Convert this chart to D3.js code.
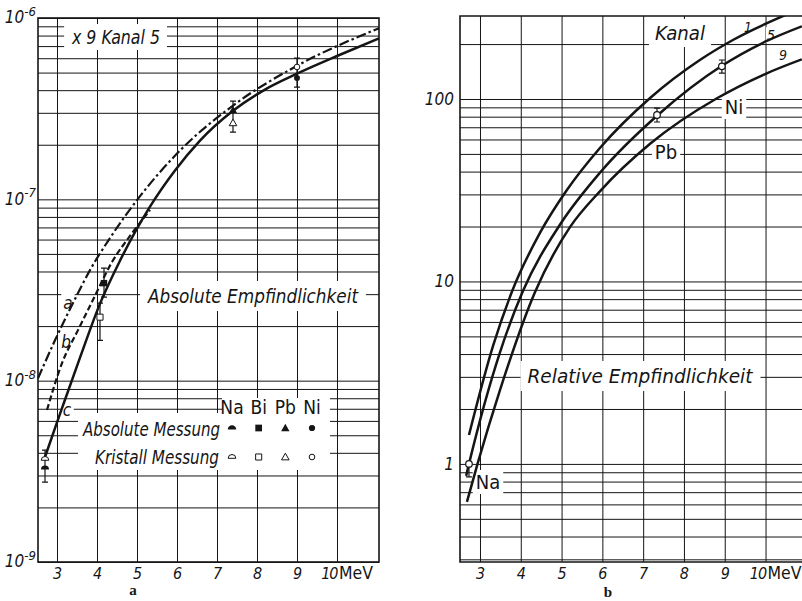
<!DOCTYPE html>
<html><head><meta charset="utf-8">
<script src="https://cdn.jsdelivr.net/npm/d3@7/dist/d3.min.js"></script>
<style>html,body{margin:0;padding:0;background:#fff;}svg{display:block;}</style>
</head><body>
<svg id="chart" width="802" height="601"></svg>
<script>
// ---------- data: panel a (absolute sensitivity) ----------
const energyTicks = [3, 4, 5, 6, 7, 8, 9, 10];
const decadeTicksA = [1e-9, 1e-8, 1e-7, 1e-6];
const decadeLabelsA = ["-9", "-8", "-7", "-6"];
const curveA_E = [2.525, 2.95, 3.4, 3.825, 4.325, 5.0, 6.075, 7.4, 9.0, 11.05];
const curveA_V = [1.03e-8, 1.67e-8, 2.68e-8, 4.07e-8, 6.12e-8, 9.9e-8, 1.858e-7, 3.29e-7, 5.45e-7, 8.79e-7];
const curveB_E = [2.75, 3.125, 3.525, 3.9, 4.375, 4.825, 5.325];
const curveB_V = [6.89e-9, 1.25e-8, 1.90e-8, 2.79e-8, 4.51e-8, 6.28e-8, 8.73e-8];
const curveC_E = [2.7, 2.95, 3.15, 3.575, 4.075, 4.575, 5.325, 5.95, 6.575, 7.4, 8.2, 9.0, 10.075, 11.05];
const curveC_V = [3.79e-9, 5.48e-9, 7.31e-9, 1.339e-8, 2.66e-8, 4.59e-8, 9.12e-8, 1.443e-7, 2.11e-7, 3.08e-7, 4.03e-7, 4.93e-7, 6.27e-7, 7.73e-7];
const elements = ["Na", "Bi", "Pb", "Ni"];
const absE = [2.7, 4.175, 7.4, 9.0];
const absV = [3.3e-9, 3.45e-8, 3.11e-7, 4.67e-7];
const krisE = [2.7, 4.075, 7.4, 9.0];
const krisV = [3.70e-9, 2.24e-8, 2.64e-7, 5.37e-7];
const errA_E = [2.7, 4.175, 4.075, 7.4, 9.0];
const errA_lo = [2.76e-9, 2.89e-8, 1.67e-8, 2.35e-7, 4.16e-7];
const errA_hi = [4.14e-9, 4.18e-8, 2.68e-8, 3.48e-7, 6.01e-7];
// ---------- data: panel b (relative sensitivity, Kanal 1 / 5 / 9) ----------
const decadeTicksB = [1, 10, 100];
const decadeLabelsB = ["1", "10", "100"];
const kanal1_E = [2.73, 3.32, 3.78, 4.47, 5.13, 5.94, 7.17, 8.39, 9.20, 10.6];
const kanal1_V = [1.44, 4.43, 8.76, 18.45, 31.7, 53.9, 101.3, 163.6, 210.6, 296];
const kanal5_E = [2.66, 2.73, 3.49, 4.05, 4.96, 5.94, 7.34, 8.93, 10.03, 10.89];
const kanal5_V = [0.86, 1.0, 4.09, 8.83, 20.45, 39.4, 80.9, 152, 207.9, 250.3];
const kanal9_E = [2.68, 2.95, 3.49, 4.35, 5.21, 5.94, 7.17, 8.81, 10.03, 10.89];
const kanal9_V = [0.62, 1.02, 2.54, 8.76, 19.9, 31.2, 56.8, 100.9, 138.3, 165.0];
const relElements = ["Na", "Pb", "Ni"];
const relE = [2.73, 7.34, 8.93];
const relV = [1.0, 81.7, 151];
const relErrLo = [0.85, 74.8, 138.7];
const relErrHi = [1.0, 89, 163.6];

// ---------- drawing ----------
const svg = d3.select("#chart");
const SANS = "'Liberation Sans Narrow','DejaVu Sans Condensed','Arial Narrow','DejaVu Sans',sans-serif";
const INK = "#151515";
const mantissas = [1, 2, 3, 4, 5, 6, 7, 8, 9];

function boxedText(g, str, x, y, o = {}) {
  const t = g.append("text").attr("x", x).attr("y", y)
    .attr("text-anchor", o.anchor || "middle")
    .attr("dominant-baseline", "central")
    .attr("font-family", SANS).attr("font-size", o.size || 19)
    .attr("font-style", o.italic === false ? "normal" : "italic")
    .attr("fill", INK).text(str);
  if (o.len) t.attr("textLength", o.len).attr("lengthAdjust", "spacingAndGlyphs");
  if (o.box !== false) {
    const bb = t.node().getBBox();
    const px = o.px ?? 4, py = o.py ?? 0;
    g.insert("rect", () => t.node()).attr("x", bb.x - px).attr("y", bb.y - py)
      .attr("width", bb.width + 2 * px).attr("height", bb.height + 2 * py).attr("fill", "#fff");
  }
  return t;
}

function symbolPath(el, r) {
  if (el === "Na") return `M${-r},${r * 0.35} A${r},${r} 0 0 1 ${r},${r * 0.35} Z`;
  if (el === "Bi") return `M${-r * 0.8},${-r * 0.8}H${r * 0.8}V${r * 0.8}H${-r * 0.8}Z`;
  if (el === "Pb") return `M0,${-r}L${r},${r * 0.75}L${-r},${r * 0.75}Z`;
  return d3.symbol(d3.symbolCircle, Math.PI * r * r * 0.55)();
}

function drawGrid(g, x, y, vVals, hVals) {
  const [x0, x1] = x.range(), [y0, y1] = y.range();
  g.append("g").attr("transform", `translate(${x0},0)`)
    .call(d3.axisLeft(y).tickValues(hVals).tickSize(-(x1 - x0)).tickFormat(""))
    .call(s => s.select(".domain").remove())
    .call(s => s.selectAll("line").attr("stroke", INK).attr("stroke-width", 1));
  g.append("g").attr("transform", `translate(0,${y0})`)
    .call(d3.axisBottom(x).tickValues(vVals).tickSize(-(y0 - y1)).tickFormat(""))
    .call(s => s.select(".domain").remove())
    .call(s => s.selectAll("line").attr("stroke", INK).attr("stroke-width", 1));
}

function xLabels(g, x, y) {
  const ax = g.append("g").attr("transform", `translate(0,${y.range()[0]})`)
    .call(d3.axisBottom(x).tickValues(energyTicks).tickSize(0).tickPadding(6).tickFormat(d3.format("d")));
  ax.select(".domain").remove();
  ax.selectAll("text").attr("font-family", SANS).attr("font-size", 16)
    .attr("font-style", "italic").attr("fill", INK)
    .filter(d => d === 10).attr("text-anchor", "end").attr("dx", 0).attr("letter-spacing", -1);
  g.append("text").attr("x", x(10) + 2).attr("y", y.range()[0] + 17)
    .attr("font-family", SANS).attr("font-size", 17).attr("fill", INK)
    .attr("textLength", 34).attr("lengthAdjust", "spacingAndGlyphs").text("MeV");
}

// ================= Panel a =================
const xA = d3.scaleLinear().domain([2.525, 11.05]).range([38, 379]);
const yA = d3.scaleLog().domain([1e-9, 1e-6]).range([562, 18]);
const gA = svg.append("g");
const gridA = decadeTicksA.slice(0, 3).flatMap(d => mantissas.map(m => m * d)).concat([1e-6]);
drawGrid(gA, xA, yA, energyTicks, gridA);

const yaxA = gA.append("g").attr("transform", `translate(${xA.range()[0]},0)`)
  .call(d3.axisLeft(yA).tickValues(decadeTicksA).tickSize(0).tickPadding(2));
yaxA.select(".domain").remove();
yaxA.selectAll(".tick text").each(function (d, i) {
  const t = d3.select(this).text(null).attr("font-family", SANS).attr("font-style", "italic")
    .attr("font-size", 17).attr("fill", INK).attr("dy", "0.28em");
  t.append("tspan").text("10");
  t.append("tspan").attr("dy", "-0.55em").attr("font-size", 13).text(decadeLabelsA[i]);
});
xLabels(gA, xA, yA);

boxedText(gA, "x 9 Kanal 5", 116, 37, { size: 20, len: 88, px: 7, py: 1 });
boxedText(gA, "Absolute Empfindlichkeit", 253, 296, { size: 20, len: 210, px: 7, py: 3 });
boxedText(gA, "a", 68, 303, { size: 17, px: 2 });
boxedText(gA, "b", 66, 342, { size: 17, px: 2 });
boxedText(gA, "c", 67, 410, { size: 17, px: 2 });
gA.append("rect").attr("x", 78).attr("y", 413).attr("width", 252).attr("height", 57).attr("fill", "#fff");
gA.append("rect").attr("x", 222).attr("y", 398).attr("width", 108).attr("height", 20).attr("fill", "#fff");
const legX = d3.scalePoint().domain(elements).range([232, 312]);
elements.forEach(el => boxedText(gA, el, legX(el), 407, { size: 19, italic: false, px: 3, box: false }));
boxedText(gA, "Absolute Messung", 83, 429, { size: 19, len: 137, anchor: "start", box: false });
boxedText(gA, "Kristall Messung", 95, 457, { size: 19, len: 124, anchor: "start", box: false });
elements.forEach(el => {
  gA.append("path").attr("d", symbolPath(el, 4.2)).attr("transform", `translate(${legX(el)},428)`)
    .attr("fill", INK);
  gA.append("path").attr("d", symbolPath(el, 3.8)).attr("transform", `translate(${legX(el)},457)`)
    .attr("fill", "#fff").attr("stroke", INK).attr("stroke-width", 1);
});

const lineA = d3.line().x(d => xA(d[0])).y(d => yA(d[1])).curve(d3.curveMonotoneX);
gA.append("path").datum(d3.zip(curveA_E, curveA_V)).attr("d", lineA).attr("fill", "none")
  .attr("stroke", INK).attr("stroke-width", 2.2).attr("stroke-dasharray", "10,3,2.5,3");
gA.append("path").datum(d3.zip(curveB_E, curveB_V)).attr("d", lineA).attr("fill", "none")
  .attr("stroke", INK).attr("stroke-width", 2.2).attr("stroke-dasharray", "6,3");
gA.append("path").datum(d3.zip(curveC_E, curveC_V)).attr("d", lineA).attr("fill", "none")
  .attr("stroke", INK).attr("stroke-width", 2.5);

gA.append("rect").attr("x", 38).attr("y", 18).attr("width", 341).attr("height", 544)
  .attr("fill", "none").attr("stroke", INK).attr("stroke-width", 1.6);

errA_E.forEach((e, i) => {
  const x = xA(e), ya = yA(errA_lo[i]), yb = yA(errA_hi[i]);
  gA.append("path").attr("d", `M${x},${ya}V${yb}M${x - 3},${ya}H${x + 3}M${x - 3},${yb}H${x + 3}`)
    .attr("stroke", INK).attr("stroke-width", 1.2).attr("fill", "none");
});
elements.forEach((el, i) => {
  gA.append("path").attr("d", symbolPath(el, 4)).attr("transform", `translate(${xA(absE[i])},${yA(absV[i])})`)
    .attr("fill", INK);
  gA.append("path").attr("d", symbolPath(el, 3.8)).attr("transform", `translate(${xA(krisE[i])},${yA(krisV[i])})`)
    .attr("fill", "#fff").attr("stroke", INK).attr("stroke-width", 1);
});

// ================= Panel b =================
const xB = d3.scaleLinear().domain([2.51, 11.09]).range([460, 810]);
const yB = d3.scaleLog().domain([0.29, 285]).range([562, 16]);
const gB = svg.append("g");
const gridB = [0.1, 1, 10, 100].flatMap(d => mantissas.map(m => m * d)).filter(v => v >= 0.3 && v <= 280);
drawGrid(gB, xB, yB, energyTicks, gridB);
const yaxB = gB.append("g").attr("transform", `translate(${xB.range()[0] - 5},0)`)
  .call(d3.axisLeft(yB).tickValues(decadeTicksB).tickSize(0).tickPadding(1).tickFormat((d, i) => decadeLabelsB[i]));
yaxB.select(".domain").remove();
yaxB.selectAll("text").attr("font-family", SANS).attr("font-style", "italic").attr("font-size", 17).attr("fill", INK);
xLabels(gB, xB, yB);

boxedText(gB, "Kanal", 680, 33, { size: 20, len: 50, px: 6, py: 2 });
boxedText(gB, "1", 748, 27, { size: 14, px: 1 });
boxedText(gB, "5", 771, 35, { size: 14, px: 1 });
boxedText(gB, "9", 783, 55, { size: 14, px: 1 });
boxedText(gB, "Ni", 734, 107, { size: 20, italic: false, px: 3 });
boxedText(gB, "Pb", 666, 152, { size: 20, italic: false, px: 3 });
boxedText(gB, "Na", 488, 482, { size: 20, italic: false, px: 3 });
boxedText(gB, "Relative Empfindlichkeit", 640, 376, { size: 20, len: 225, px: 7, py: 3 });

gB.append("clipPath").attr("id", "clipB").append("rect").attr("x", 460).attr("y", 16).attr("width", 350).attr("height", 546);
const lineB = d3.line().x(d => xB(d[0])).y(d => yB(d[1])).curve(d3.curveMonotoneX);
const gCurvesB = gB.append("g").attr("clip-path", "url(#clipB)");
[[kanal1_E, kanal1_V], [kanal5_E, kanal5_V], [kanal9_E, kanal9_V]].forEach(([E, V]) => {
  gCurvesB.append("path").datum(d3.zip(E, V)).attr("d", lineB).attr("fill", "none")
    .attr("stroke", INK).attr("stroke-width", 2.5);
});
gB.append("path").attr("d", `M812,16H460V562H812`).attr("fill", "none").attr("stroke", INK).attr("stroke-width", 1.6);

relElements.forEach((el, i) => {
  const x = xB(relE[i]), ya = yB(relErrLo[i]), yb = yB(relErrHi[i]);
  gB.append("path").attr("d", `M${x},${ya}V${yb}M${x - 3},${ya}H${x + 3}M${x - 3},${yb}H${x + 3}`)
    .attr("stroke", INK).attr("stroke-width", 1.2).attr("fill", "none");
  gB.append("circle").attr("cx", x).attr("cy", yB(relV[i])).attr("r", 3.3)
    .attr("fill", "#fff").attr("stroke", INK).attr("stroke-width", 1.2);
});

svg.append("text").attr("x", 133).attr("y", 595).attr("text-anchor", "middle")
  .attr("font-family", "'Liberation Serif','DejaVu Serif',serif").attr("font-weight", "bold")
  .attr("font-size", 15).attr("fill", INK).text("a");
svg.append("text").attr("x", 608).attr("y", 597).attr("text-anchor", "middle")
  .attr("font-family", "'Liberation Serif','DejaVu Serif',serif").attr("font-weight", "bold")
  .attr("font-size", 15).attr("fill", INK).text("b");
</script>
</body></html>
